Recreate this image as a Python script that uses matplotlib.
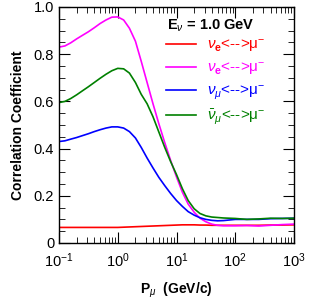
import matplotlib
matplotlib.use('Agg')
import matplotlib.pyplot as plt
from matplotlib.ticker import FixedLocator, LogLocator, NullFormatter

plt.rcParams['font.family'] = ['Liberation Sans', 'DejaVu Sans']
plt.rcParams['mathtext.fontset'] = 'custom'
plt.rcParams['mathtext.rm'] = 'Liberation Sans'
plt.rcParams['mathtext.it'] = 'Liberation Sans:italic'
plt.rcParams['mathtext.bf'] = 'Liberation Sans:bold'

# muon momentum (GeV/c)
P = [0.1, 0.126, 0.158, 0.2, 0.251, 0.316, 0.398, 0.501, 0.631, 0.794,
     1.0, 1.26, 1.58, 2.0, 2.51, 3.16, 3.98, 5.01, 6.31, 7.94,
     10, 12.6, 15.8, 20, 25.1, 31.6, 39.8, 50.1, 63.1, 100,
     158, 251, 398, 631, 1000]

red_nue = [0.066, 0.066, 0.066, 0.066, 0.066, 0.066, 0.066, 0.066, 0.066, 0.066,
           0.066, 0.067, 0.068, 0.069, 0.070, 0.071, 0.072, 0.073, 0.074, 0.075,
           0.076, 0.077, 0.077, 0.077, 0.076, 0.076, 0.075, 0.075, 0.075, 0.075,
           0.075, 0.075, 0.076, 0.076, 0.077]

mag_nue = [0.83, 0.835, 0.848, 0.865, 0.88, 0.895, 0.912, 0.93, 0.945, 0.957,
           0.958, 0.945, 0.91, 0.855, 0.77, 0.68, 0.59, 0.505, 0.425, 0.35,
           0.28, 0.215, 0.165, 0.13, 0.105, 0.09, 0.08, 0.075, 0.073, 0.073,
           0.074, 0.072, 0.075, 0.078, 0.08]

blue_numu = [0.43, 0.433, 0.44, 0.447, 0.455, 0.463, 0.472, 0.48, 0.487, 0.492,
             0.492, 0.487, 0.472, 0.445, 0.405, 0.36, 0.318, 0.278, 0.243, 0.21,
             0.18, 0.155, 0.133, 0.118, 0.107, 0.1, 0.096, 0.094, 0.095, 0.1,
             0.1, 0.1, 0.103, 0.104, 0.105]

green_numubar = [0.595, 0.60, 0.612, 0.628, 0.645, 0.662, 0.68, 0.698, 0.715, 0.73,
                 0.74, 0.738, 0.72, 0.68, 0.63, 0.59, 0.535, 0.47, 0.405, 0.345,
                 0.29, 0.23, 0.18, 0.145, 0.125, 0.115, 0.11, 0.108, 0.106, 0.104,
                 0.10, 0.102, 0.105, 0.104, 0.105]

series = [
    (red_nue, 'red', r'$\nu_{\mathbf{e}}$<-->$\mathrm{\mu}^{-}$'),
    (mag_nue, 'magenta', r'$\nu_{\mathbf{e}}$<-->$\mathrm{\mu}^{-}$'),
    (blue_numu, 'blue', r'$\nu_{\mu}$<-->$\mathrm{\mu}^{-}$'),
    (green_numubar, 'green', r'$\bar{\nu}_{\mu}$<-->$\mathrm{\mu}^{-}$'),
]

fig = plt.figure(figsize=(3.12, 3.0), dpi=100)
ax = fig.add_axes([59/312, 57/300, 235/312, 236/300])

for vals, col, lab in series:
    ax.plot(P, vals, color=col, lw=1.2, label=lab)

ax.set_xscale('log')
ax.set_xlim(0.1, 1000)
ax.set_ylim(0, 1.0)

ax.xaxis.set_major_locator(LogLocator(base=10, numticks=10))
ax.xaxis.set_minor_locator(LogLocator(base=10, subs=range(2, 10), numticks=20))
ax.xaxis.set_minor_formatter(NullFormatter())
yt = [0, 0.2, 0.4, 0.6, 0.8, 1.0]
ax.yaxis.set_major_locator(FixedLocator(yt))
ax.set_yticklabels(['0', '0.2', '0.4', '0.6', '0.8', '1.0'])
ax.yaxis.set_minor_locator(FixedLocator([i * 0.05 for i in range(21)]))

ax.tick_params(which='both', direction='in', top=True, right=True, labelsize=10.5)
ax.tick_params(which='major', length=8, width=0.8)
ax.tick_params(which='minor', length=4, width=0.6)
ax.tick_params(axis='x', pad=6)
for s in ax.spines.values():
    s.set_linewidth(1.0)

ax.set_ylabel('Correlation Coefficient', fontsize=10, fontweight='bold', labelpad=6)
ax.set_xlabel(r'P$_{\mu}$  (GeV/c)', fontsize=10, fontweight='bold', labelpad=8)

leg = ax.legend(loc='upper left', bbox_to_anchor=(0.455, 0.87), frameon=False,
                fontsize=11, handlelength=2.0, handletextpad=0.7,
                labelspacing=0.4, borderaxespad=0.0, borderpad=0.0)
for txt, (_, col, _) in zip(leg.get_texts(), series):
    txt.set_color(col)

ax.text(0.46, 0.955, r'E$_{\nu}$ = 1.0 GeV', transform=ax.transAxes,
        fontsize=10.5, fontweight='bold', ha='left', va='top')

fig.savefig('out.png', dpi=100)
